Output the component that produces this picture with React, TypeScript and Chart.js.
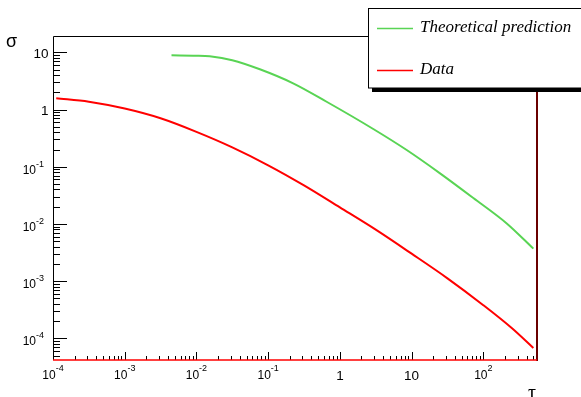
import React, { useEffect, useRef } from "react";
import { Chart, registerables } from "chart.js";

Chart.register(...registerables);

// ---- data (log-log) ----
const seriesNames = ["Theoretical prediction", "Data"];
const seriesColors = ["#59d454", "#ff0000"];

const theoryTau = [4.49e-3, 0.01, 0.0153, 0.0316, 0.0766, 0.223, 0.653, 2.92, 8.54, 24.9, 72.5, 212, 498];
const theorySigma = [8.87, 8.75, 8.51, 7.28, 5.05, 2.87, 1.368, 0.457, 0.196, 0.0767, 0.0284, 0.0102, 3.7e-3];

const dataTau = [1.11e-4, 3.16e-4, 1e-3, 3.16e-3, 0.01, 0.0316, 0.1, 0.316, 1, 3.16, 10, 31.6, 100, 251, 498];
const dataSigma = [1.57, 1.37, 1.04, 0.703, 0.407, 0.218, 0.106, 0.0472, 0.01945, 7.94e-3, 3.02e-3, 1.12e-3, 3.8e-4, 1.5e-4, 6.8e-5];

const xTickValues = [1e-4, 1e-3, 1e-2, 1e-1, 1, 10, 100];
const xTickLabels = ["10^-4", "10^-3", "10^-2", "10^-1", "1", "10", "10^2"];
const yTickValues = [1e-4, 1e-3, 1e-2, 1e-1, 1, 10];
const yTickLabels = ["10^-4", "10^-3", "10^-2", "10^-1", "1", "10"];

const xRange = [1e-4, 560];
const yRange = [4.18e-5, 19.3];
const xTitle = "τ";
const yTitle = "σ";

const SANS = '"Liberation Sans", Arial, Helvetica, sans-serif';
const SERIF = '"Liberation Serif", "Times New Roman", serif';

function drawLabel(ctx: CanvasRenderingContext2D, text: string, axis: "x" | "y", px: number, py: number) {
  const parts = text.split("^");
  if (parts.length === 1) {
    ctx.font = `13.5px ${SANS}`;
    ctx.textBaseline = "middle";
    ctx.textAlign = axis === "x" ? "center" : "right";
    ctx.fillText(text, px, py);
    return;
  }
  const [base, exp] = parts;
  const bf = `12px ${SANS}`;
  const ef = `9px ${SANS}`;
  ctx.font = bf;
  const bw = ctx.measureText(base).width;
  ctx.font = ef;
  const ew = ctx.measureText(exp).width;
  const total = bw + ew;
  let x0: number;
  let baseY: number;
  let expY: number;
  if (axis === "x") {
    x0 = px - total / 2;
    baseY = py;
    expY = py - 7;
  } else {
    x0 = px - total;
    baseY = py + 3.5;
    expY = py - 2.5;
  }
  ctx.textAlign = "left";
  ctx.textBaseline = "middle";
  ctx.font = bf;
  ctx.fillText(base, x0, baseY);
  ctx.font = ef;
  ctx.fillText(exp, x0 + bw, expY);
}

const rootStylePlugin = {
  id: "rootStyle",
  afterDatasetsDraw(chart: any) {
    const ctx: CanvasRenderingContext2D = chart.ctx;
    const { left, right, top, bottom } = chart.chartArea;
    const xs = chart.scales.x;
    const ys = chart.scales.y;
    ctx.save();

    // frame: left & top black
    ctx.strokeStyle = "#000";
    ctx.lineWidth = 1;
    ctx.beginPath();
    ctx.moveTo(left + 0.5, bottom);
    ctx.lineTo(left + 0.5, top + 0.5);
    ctx.lineTo(right, top + 0.5);
    ctx.stroke();

    // tick marks (inward)
    ctx.beginPath();
    for (let k = -5; k <= 3; k++) {
      for (let m = 1; m <= 9; m++) {
        const v = m * Math.pow(10, k);
        if (v >= xRange[0] * 0.999 && v <= xRange[1]) {
          const px = Math.round(xs.getPixelForValue(v)) + 0.5;
          const len = m === 1 ? 8 : 4;
          ctx.moveTo(px, bottom);
          ctx.lineTo(px, bottom - len);
        }
        if (v >= yRange[0] && v <= yRange[1]) {
          const py = Math.round(ys.getPixelForValue(v)) + 0.5;
          const len = m === 1 ? 14 : 7;
          ctx.moveTo(left, py);
          ctx.lineTo(left + len, py);
        }
      }
    }
    ctx.stroke();

    // right edge (dark red) and bottom edge (red)
    ctx.strokeStyle = "#6a0000";
    ctx.lineWidth = 2;
    ctx.beginPath();
    ctx.moveTo(right, top);
    ctx.lineTo(right, bottom + 1);
    ctx.stroke();
    ctx.strokeStyle = "#ff0000";
    ctx.lineWidth = 1.5;
    ctx.beginPath();
    ctx.moveTo(left, bottom);
    ctx.lineTo(right, bottom);
    ctx.stroke();

    // tick labels
    ctx.fillStyle = "#000";
    xTickValues.forEach((v, i) => {
      drawLabel(ctx, xTickLabels[i], "x", xs.getPixelForValue(v), bottom + 16);
    });
    yTickValues.forEach((v, i) => {
      const py = ys.getPixelForValue(v);
      if (yTickLabels[i].includes("^")) drawLabel(ctx, yTickLabels[i], "y", left - 9, py);
      else drawLabel(ctx, yTickLabels[i], "y", left - 4.5, py + 2);
    });

    // axis titles
    ctx.textAlign = "left";
    ctx.textBaseline = "alphabetic";
    ctx.font = `18px ${SANS}`;
    ctx.fillText(yTitle, 6, 47);
    ctx.font = `20px ${SERIF}`;
    ctx.fillText(xTitle, 528, 399);

    // legend box with shadow
    const lx = 368, ly = 8, lw = 240, lh = 80;
    ctx.fillStyle = "#000";
    ctx.fillRect(lx + 4, ly + 4, lw, lh);
    ctx.fillStyle = "#fff";
    ctx.fillRect(lx, ly, lw, lh);
    ctx.strokeStyle = "#000";
    ctx.lineWidth = 1;
    ctx.strokeRect(lx + 0.5, ly + 0.5, lw, lh - 0.5);
    const rows = [28.5, 70.5];
    chart.data.datasets.forEach((ds: any, i: number) => {
      const ry = rows[i];
      ctx.strokeStyle = ds.borderColor;
      ctx.lineWidth = 1.5;
      ctx.beginPath();
      ctx.moveTo(377, ry);
      ctx.lineTo(413, ry);
      ctx.stroke();
      ctx.fillStyle = "#000";
      ctx.font = `italic 17px ${SERIF}`;
      ctx.textAlign = "left";
      ctx.textBaseline = "middle";
      ctx.fillText(ds.label, 420, ry - 1);
    });

    ctx.restore();
  },
};

export default function App() {
  const ref = useRef<HTMLCanvasElement | null>(null);
  useEffect(() => {
    if (!ref.current) return;
    const chart = new Chart(ref.current, {
      type: "line",
      data: {
        datasets: [
          {
            label: seriesNames[0],
            data: theoryTau.map((x, i) => ({ x, y: theorySigma[i] })),
            borderColor: seriesColors[0],
            backgroundColor: seriesColors[0],
            borderWidth: 2,
            pointRadius: 0,
            cubicInterpolationMode: "monotone",
            fill: false,
          },
          {
            label: seriesNames[1],
            data: dataTau.map((x, i) => ({ x, y: dataSigma[i] })),
            borderColor: seriesColors[1],
            backgroundColor: seriesColors[1],
            borderWidth: 2,
            pointRadius: 0,
            cubicInterpolationMode: "monotone",
            fill: false,
          },
        ],
      },
      options: {
        animation: false,
        responsive: false,
        devicePixelRatio: 1,
        layout: { padding: { left: 0, top: 36, right: 44, bottom: 0 } },
        plugins: { legend: { display: false }, tooltip: { enabled: false }, title: { display: false } },
        scales: {
          x: {
            type: "logarithmic",
            min: xRange[0],
            max: xRange[1],
            grid: { display: false },
            border: { display: false },
            ticks: { display: false },
            afterFit: (s: any) => {
              s.height = 37;
            },
          },
          y: {
            type: "logarithmic",
            min: yRange[0],
            max: yRange[1],
            grid: { display: false },
            border: { display: false },
            ticks: { display: false },
            afterFit: (s: any) => {
              s.width = 53;
            },
          },
        },
      } as any,
      plugins: [rootStylePlugin as any],
    });
    return () => chart.destroy();
  }, []);
  return (
    <div style={{ position: "fixed", left: 0, top: 0, width: 581, height: 397, background: "#fff" }}>
      <canvas ref={ref} width={581} height={397} style={{ display: "block", width: 581, height: 397 }} />
    </div>
  );
}
